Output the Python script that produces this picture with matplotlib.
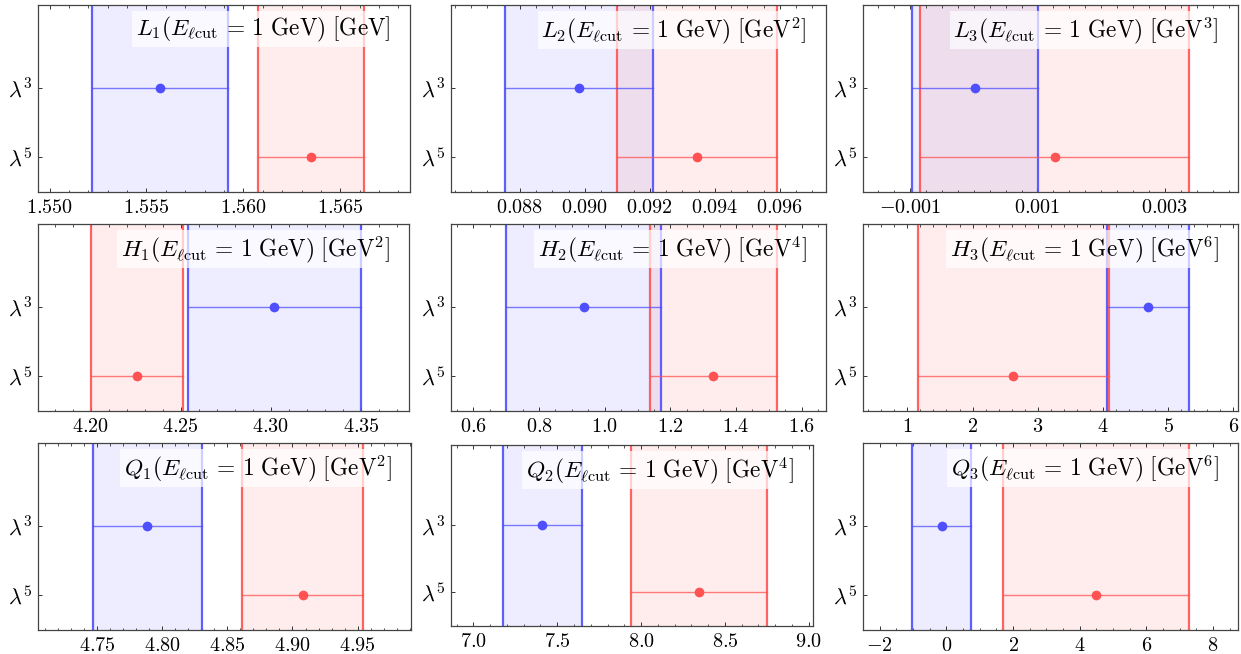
import matplotlib
matplotlib.use("Agg")
import matplotlib.pyplot as plt
from matplotlib.ticker import MultipleLocator, FixedLocator, FuncFormatter

plt.rcParams['mathtext.fontset'] = 'cm'
plt.rcParams['font.family'] = 'serif'
plt.rcParams['font.serif'] = ['DejaVu Serif']

# panel titles
names = ['L_1', 'L_2', 'L_3', 'H_1', 'H_2', 'H_3', 'Q_1', 'Q_2', 'Q_3']
units = ['', '^2', '^3', '^2', '^4', '^6', '^2', '^4', '^6']

# central values and half widths, lambda^3 and lambda^5 expansions
lam3_val = [1.5557, 0.08982, 0.00002, 4.302, 0.936, 4.69, 4.7886, 7.41, -0.14]
lam3_err = [0.0035, 0.00228, 0.00099, 0.048, 0.237, 0.63, 0.0421, 0.235, 0.89]
lam5_val = [1.5635, 0.09345, 0.00127, 4.2256, 1.331, 2.625, 4.9077, 8.345, 4.50]
lam5_err = [0.00275, 0.00245, 0.00211, 0.0256, 0.194, 1.465, 0.0462, 0.405, 2.79]

# axis ranges and ticks
xlims = [(1.5494, 1.5686), (0.08588, 0.09742), (-0.001737, 0.004145),
         (4.1708, 4.3767), (0.532, 1.674), (0.32, 6.07),
         (4.7046, 4.991), (6.866, 9.026), (-2.5, 8.75)]
major_ticks = [[1.550, 1.555, 1.560, 1.565],
               [0.088, 0.090, 0.092, 0.094, 0.096],
               [-0.001, 0.001, 0.003],
               [4.20, 4.25, 4.30, 4.35],
               [0.6, 0.8, 1.0, 1.2, 1.4, 1.6],
               [1, 2, 3, 4, 5, 6],
               [4.75, 4.80, 4.85, 4.90, 4.95],
               [7.0, 7.5, 8.0, 8.5, 9.0],
               [-2, 0, 2, 4, 6, 8]]
minor_step = [0.001, 0.0005, 0.00025, 0.01, 0.05, 0.2, 0.01, 0.1, 0.5]
decimals = [3, 3, 3, 2, 1, 0, 2, 1, 0]

# axes boxes in pixels: left, top, right, bottom
boxes = [(38, 5, 410, 192), (451, 5, 826, 192), (863, 5, 1238, 192),
         (38, 224, 409, 411), (451, 224, 826, 411), (863, 224, 1238, 411),
         (38, 443, 411, 630), (451, 445, 813, 626), (863, 443, 1238, 630)]

W, H = 1241, 654
fig = plt.figure(figsize=(W / 100, H / 100), dpi=100)

blue = '#4f4fff'
red = '#ff5252'
y3, y5 = 2, 1


def fmt(d):
    def f(x, pos):
        return '$' + f"{x:.{d}f}" + '$'
    return FuncFormatter(f)


for i in range(9):
    l, t, r, b = boxes[i]
    ax = fig.add_axes([l / W, 1 - b / H, (r - l) / W, (b - t) / H])

    for val, err, y, c in [(lam3_val[i], lam3_err[i], y3, blue),
                           (lam5_val[i], lam5_err[i], y5, red)]:
        lo, hi = val - err, val + err
        ax.axvspan(lo, hi, color=c, alpha=0.1, lw=0, zorder=1)
        ax.axvline(lo, color=c, lw=1.6, alpha=0.9, zorder=2)
        ax.axvline(hi, color=c, lw=1.6, alpha=0.9, zorder=2)
        ax.plot([lo, hi], [y, y], color=c, lw=1.0, alpha=0.75, zorder=3)
        ax.plot([val], [y], 'o', color=c, ms=7, mec='none', zorder=4)

    ax.set_xlim(*xlims[i])
    ax.set_ylim(0.5, 3.2)
    ax.xaxis.set_major_locator(FixedLocator(major_ticks[i]))
    ax.xaxis.set_minor_locator(MultipleLocator(minor_step[i]))
    ax.xaxis.set_major_formatter(fmt(decimals[i]))
    ax.set_yticks([y3, y5])
    ax.set_yticklabels([r'$\lambda^3$', r'$\lambda^5$'])

    ax.tick_params(which='both', direction='in', top=True, right=False,
                   colors='#333333', labelcolor='black')
    ax.tick_params(axis='x', labelsize=14.5)
    ax.tick_params(axis='y', labelsize=16)
    ax.tick_params(which='major', length=3.2, width=0.7, pad=4)
    ax.tick_params(which='minor', length=1.8, width=0.6)
    for s in ax.spines.values():
        s.set_color('#444444')
        s.set_linewidth(0.9)

    title = (r'$' + names[i] + r'(E_{\ell\mathrm{cut}}\,=\,1\ \mathrm{GeV})\ [\mathrm{GeV}'
             + units[i] + r']$')
    ax.annotate(title, xy=(1, 1), xycoords='axes fraction', xytext=(-14, -7),
                textcoords='offset points', ha='right', va='top', fontsize=16.8,
                zorder=5,
                bbox=dict(boxstyle='square,pad=0.15', fc='white', ec='none', alpha=0.7))

fig.savefig('out.png', dpi=100)
